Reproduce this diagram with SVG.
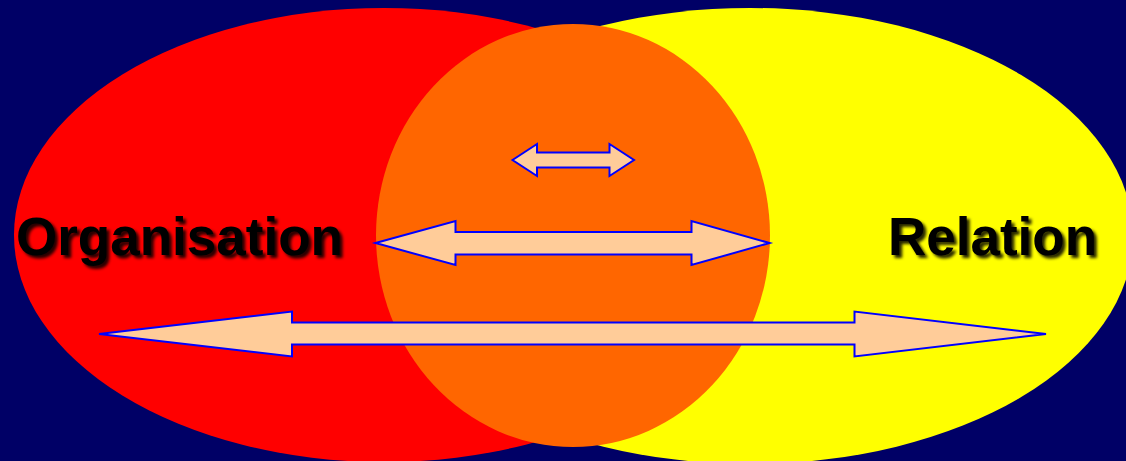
<svg xmlns="http://www.w3.org/2000/svg" width="1126" height="461" viewBox="0 0 1126 461">
  <defs>
    <filter id="shadow" x="-10%" y="-30%" width="120%" height="160%">
      <feGaussianBlur in="SourceAlpha" stdDeviation="1.6"/>
      <feOffset dx="3" dy="3" result="b"/>
      <feFlood flood-color="#000000" flood-opacity="0.85"/>
      <feComposite in2="b" operator="in" result="s"/>
      <feMerge>
        <feMergeNode in="s"/>
        <feMergeNode in="SourceGraphic"/>
      </feMerge>
    </filter>
  </defs>
  <style>
    .label { font-family: "Liberation Sans", Arial, sans-serif; font-weight: bold; font-size: 53px; fill: #000000; }
    .arrow { fill: #FFCC99; stroke: #0000FF; stroke-width: 2; stroke-linejoin: miter; }
  </style>
  <rect x="0" y="0" width="1126" height="461" fill="#000066"/>
  <g id="relation">
    <ellipse cx="750" cy="236" rx="383" ry="228" fill="#FFFF00"/>
  </g>
  <g id="organisation">
    <ellipse cx="384" cy="235" rx="370" ry="227" fill="#FF0000"/>
  </g>
  <g id="overlap">
    <ellipse cx="573" cy="235.5" rx="197" ry="211.5" fill="#FF6600"/>
  </g>
  <g id="connectors">
    <polygon class="arrow" points="512.5,160 537,144 537,152.5 609.5,152.5 609.5,144 634,160 609.5,176 609.5,167.5 537,167.5 537,176"/>
    <polygon class="arrow" points="375.5,243 455.5,221 455.5,232 691.5,232 691.5,221 769.5,243 691.5,265 691.5,254.5 455.5,254.5 455.5,265"/>
    <polygon class="arrow" points="99,334 292,311.5 292,322.5 854.5,322.5 854.5,311.5 1046,334 854.5,356.5 854.5,344.5 292,344.5 292,356.5"/>
  </g>
  <g id="label-organisation">
    <text class="label" x="16" y="255" filter="url(#shadow)">Organisation</text>
  </g>
  <g id="label-relation">
    <text class="label" x="888" y="255" filter="url(#shadow)">Relation</text>
  </g>
</svg>
